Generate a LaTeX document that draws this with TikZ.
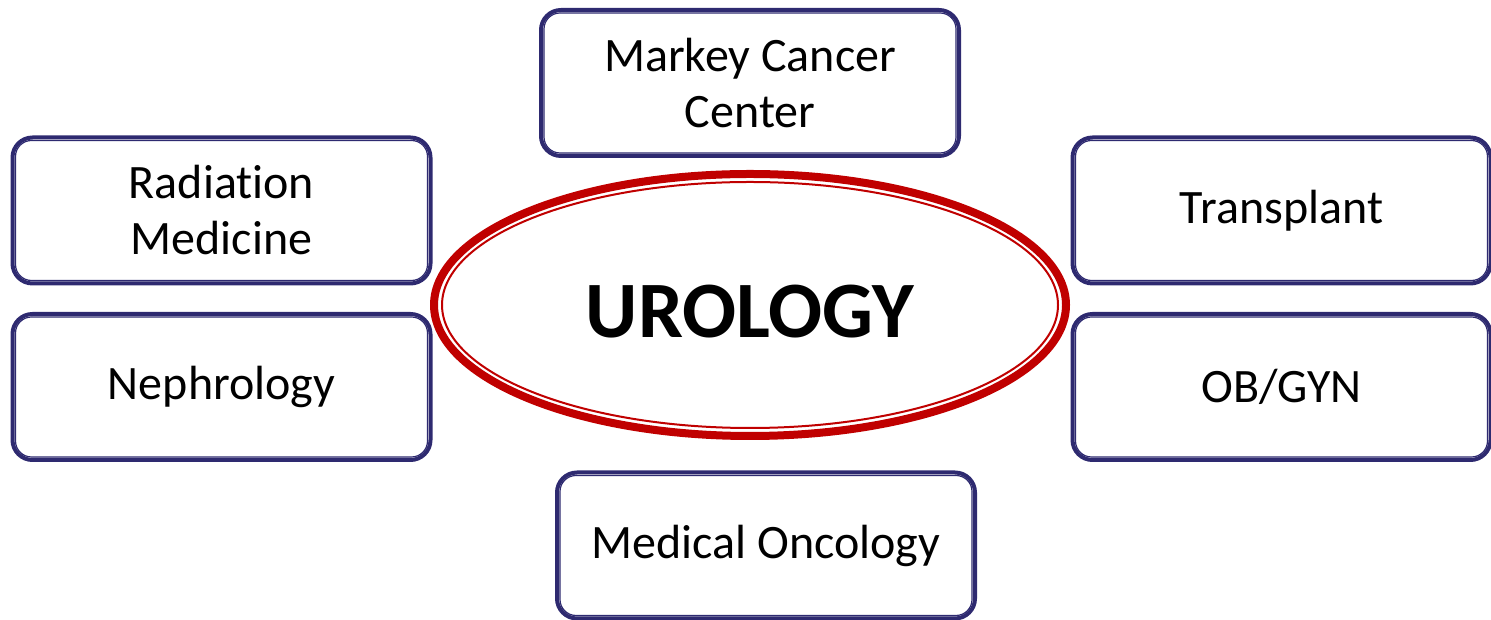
\documentclass[tikz,border=0pt]{standalone}
\usepackage{fontspec}
\setmainfont[Ligatures=NoCommon]{Carlito}
\usetikzlibrary{calc,shapes.geometric}
\definecolor{navy}{HTML}{2E2A70}
\definecolor{urored}{HTML}{C00000}
\tikzset{
  unitbox/.style={
    rectangle,
    rounded corners=20pt,
    draw=navy,
    line width=4pt,
    fill=white,
    align=center,
    minimum width=418pt,
    minimum height=146pt,
    inner sep=0pt,
    font=\fontsize{48}{56}\selectfont
  },
  innerline/.style={
    draw=navy,
    line width=1.2pt,
    rounded corners=16pt
  },
  hub/.style={
    ellipse,
    draw=urored,
    line width=8pt,
    minimum width=632pt,
    minimum height=262pt,
    inner sep=0pt,
    text height=65pt,
    text depth=0pt,
    font=\fontsize{80}{84}\selectfont\bfseries
  }
}
\begin{document}
\begin{tikzpicture}[x=1pt,y=1pt]
  \useasboundingbox (0,0) rectangle (1491,620);

  % central department
  \node[hub] (urology) at (750,315) {UROLOGY};
  \draw[draw=urored, line width=2pt] (urology.center) ellipse [x radius=308, y radius=123];

  % partner units
  \node[unitbox] (markey)  at (750,537)    {Markey Cancer\\Center};
  \node[unitbox] (radmed)  at (221.5,409.5) {Radiation\\Medicine};
  \node[unitbox] (nephro)  at (221.5,233)   {Nephrology};
  \node[unitbox] (transpl) at (1281.5,409.5) {Transplant};
  \node[unitbox] (obgyn)   at (1281.5,233)   {OB/GYN};
  \node[unitbox] (medonc)  at (766,74.5)     {Medical Oncology};

  % thin inner rule of each box
  \foreach \n in {markey,radmed,nephro,transpl,obgyn,medonc}
    \draw[innerline] ($(\n.south west)+(5,5)$) rectangle ($(\n.north east)-(5,5)$);

\end{tikzpicture}
\end{document}
